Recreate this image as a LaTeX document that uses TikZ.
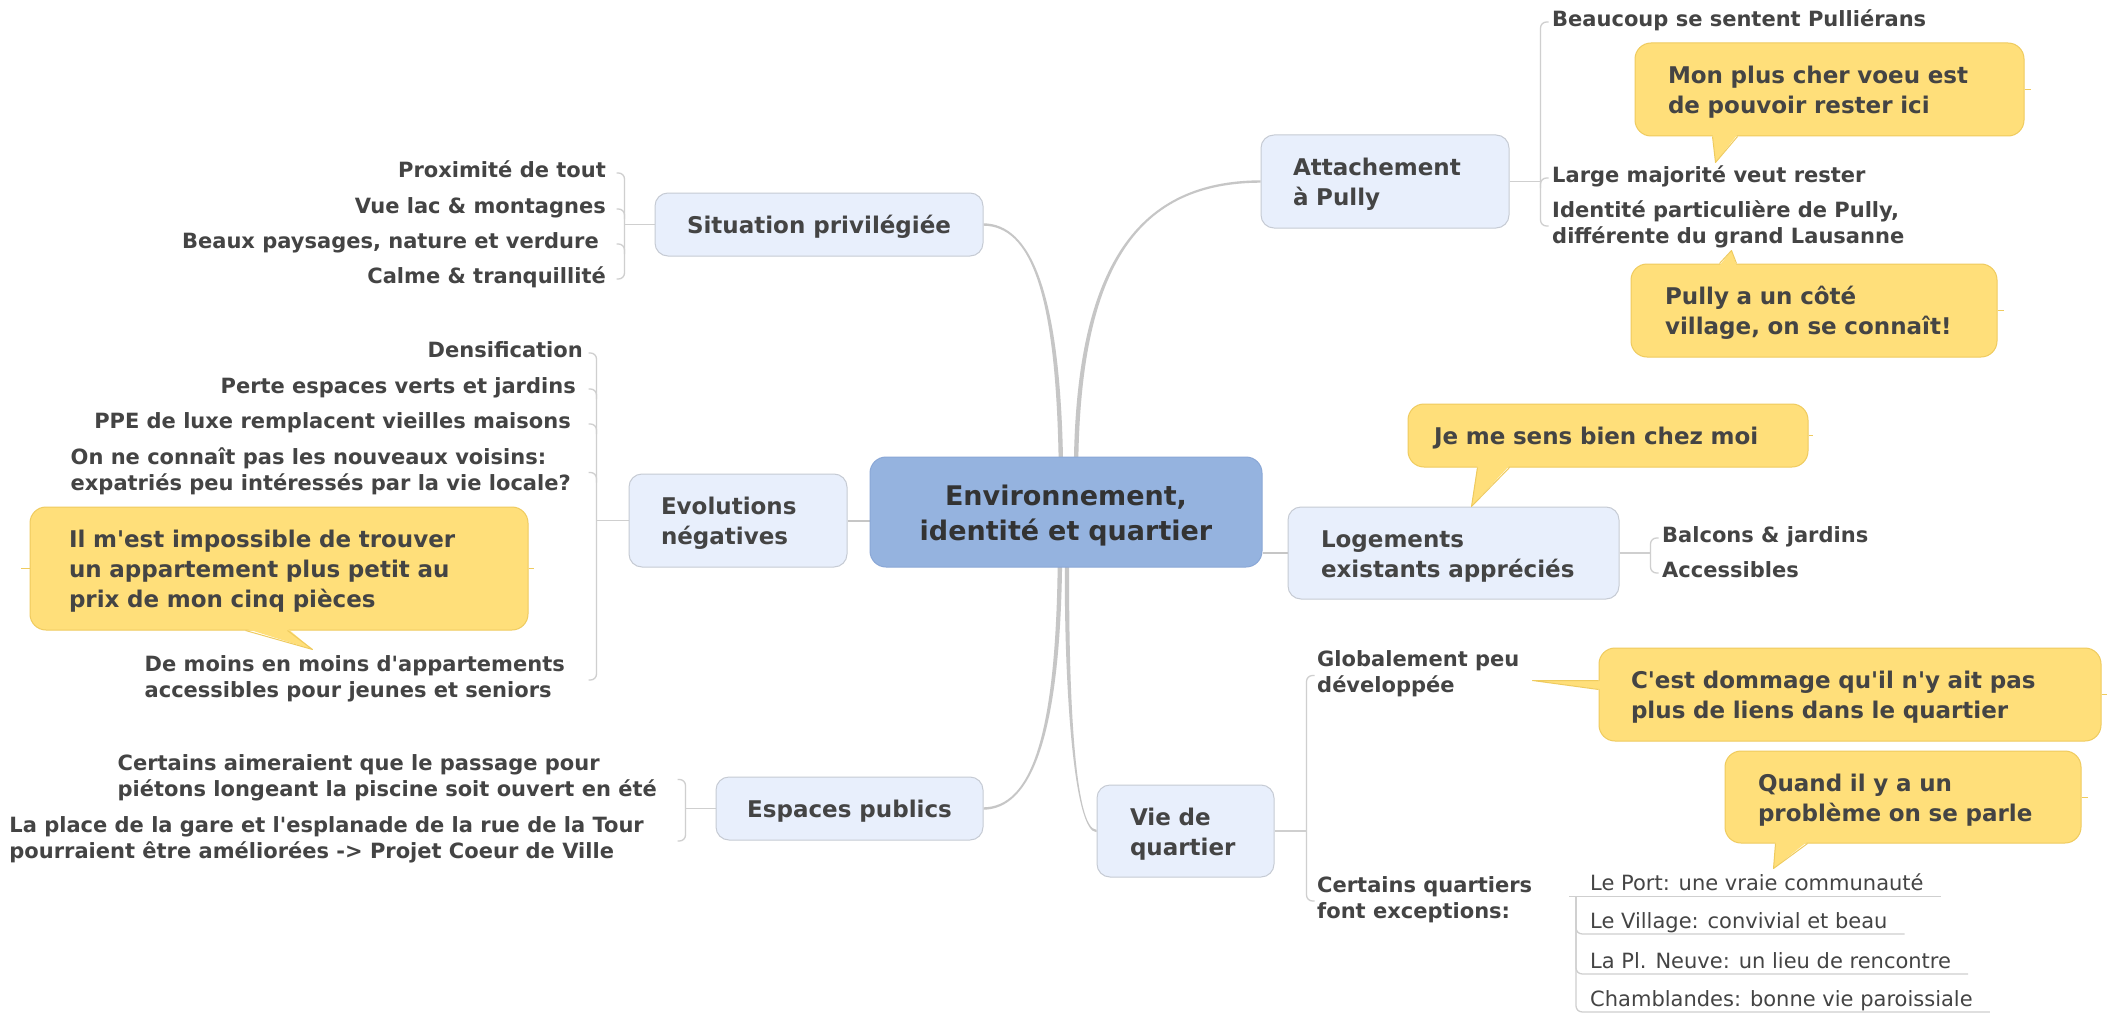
\documentclass[tikz,border=0pt]{standalone}
\usepackage{fontspec}
\setmainfont{DejaVu Sans}[Ligatures=TeXOff]
\usetikzlibrary{calc}
\pgfdeclarelayer{bg}
\pgfsetlayers{bg,main}

\definecolor{txtc}{HTML}{444444}
\definecolor{roottxt}{HTML}{333333}
\definecolor{rootfill}{HTML}{95B3DF}
\definecolor{rootline}{HTML}{8AA7D6}
\definecolor{topfill}{HTML}{E8EFFC}
\definecolor{topline}{HTML}{C6CBD4}
\definecolor{callfill}{HTML}{FFDF7A}
\definecolor{callline}{HTML}{EFCB5E}
\definecolor{branchc}{HTML}{C6C6C6}
\definecolor{brackc}{HTML}{CFCFCF}

\newcommand\leaffont{\fontsize{21}{26}\selectfont\bfseries}
\newcommand\subfont{\fontsize{21}{26}\selectfont}
\newcommand\topicfont{\fontsize{23}{30}\selectfont\bfseries}
\newcommand\callfont{\fontsize{23}{30}\selectfont\bfseries}
\newcommand\rootfont{\fontsize{27}{35}\selectfont\bfseries}
% explicit line struts
\newcommand\Ra{\rule{0pt}{29pt}}
\newcommand\Rz{\rule[-8pt]{0pt}{0pt}}
\newcommand\Ta{\rule{0pt}{25pt}}
\newcommand\Tz{\rule[-7pt]{0pt}{0pt}}
\newcommand\Ls{\rule[-7pt]{0pt}{18pt}}
\newcommand\Ss{\rule[-5.5pt]{0pt}{18pt}}

\newcommand\mmbranch[6]{%
  \fill[branchc] ($#1+(0,#5)$) .. controls ($#2+(0,#5)$) and ($#3+(#6,0)$) .. ($#4+(#6,0)$)
    -- ($#4+({-(#6)},0)$) .. controls ($#3+({-(#6)},0)$) and ($#2+(0,{-(#5)})$) .. ($#1+(0,{-(#5)})$) -- cycle;}

\tikzset{
  every node/.style={inner sep=0pt, text=txtc},
  rootbox/.style={rounded corners=16pt, fill=rootfill, draw=rootline, line width=1pt,
    align=center, font=\rootfont, text=roottxt, text width=372pt, inner xsep=10pt, minimum height=110pt},
  topicbox/.style={rounded corners=13pt, fill=topfill, draw=topline, line width=1pt, font=\topicfont},
  callbox/.style={rounded corners=16pt, fill=callfill, draw=callline, line width=1pt,
    font=\callfont, align=left},
  leafL/.style={font=\leaffont, align=left, anchor=east, yshift=-1pt},
  leafR/.style={font=\leaffont, align=left, anchor=west, yshift=-1pt},
  subleaf/.style={font=\subfont, align=left, anchor=west},
  brk/.style={draw=brackc, line width=1.3pt},
  branchline/.style={draw=branchc, line width=2pt},
  stub/.style={draw=callline, line width=1pt},
}

\begin{document}
\begin{tikzpicture}[x=1pt,y=-1pt,line join=round]
\begin{pgfonlayer}{bg}
\fill[white] (0,0) rectangle (2107,1014);
\end{pgfonlayer}
\useasboundingbox (0,0) rectangle (2107,1014);

% central and topics
\node[rootbox] (root) at (1066,512) {\Ra Environnement,\\identité et quartier\Rz};
\node[topicbox, align=left, text width=184pt, inner xsep=32pt, minimum height=93pt] (att) at (1385,181.5) {\Ta Attachement\\à~Pully\Tz};
\node[topicbox, align=center, minimum width=328pt, minimum height=63pt] (sit) at (819,224.5) {\Ta Situation privilégiée\Tz};
\node[topicbox, align=left, text width=154pt, inner xsep=32pt, minimum height=93pt] (evo) at (738,520.5) {\Ta Evolutions\\négatives\Tz};
\node[topicbox, align=left, text width=265pt, inner xsep=33pt, minimum height=92pt] (log) at (1453.5,553) {\Ta Logements\\existants~appréciés\Tz};
\node[topicbox, align=center, minimum width=267pt, minimum height=63pt] (esp) at (849.5,808.5) {\Ta Espaces publics\Tz};
\node[topicbox, align=left, text width=111pt, inner xsep=33pt, minimum height=92pt] (vie) at (1185.5,831) {\Ta Vie~de\\quartier\Tz};

% callouts
\node[callbox, text width=323pt, inner xsep=33pt, minimum height=93pt] (c1) at (1829.5,89.5) {\Ta Mon~plus~cher~voeu~est\\de~pouvoir~rester~ici\Tz};
\node[callbox, text width=298pt, inner xsep=34pt, minimum height=93pt] (c2) at (1814,310.5) {\Ta Pully~a~un~côté\\village,~on~se~connaît!\Tz};
\node[callbox, text width=348pt, inner xsep=26pt, minimum height=63pt] (c3) at (1608,435.5) {\Ta Je~me~sens~bien~chez~moi\Tz};
\node[callbox, text width=420pt, inner xsep=39pt, minimum height=123pt] (c4) at (279,568.5) {\Ta Il~m'est~impossible~de~trouver\\un~appartement~plus~petit~au\\prix~de~mon~cinq~pièces\Tz};
\node[callbox, text width=438pt, inner xsep=32pt, minimum height=93pt] (c5) at (1850,694.5) {\Ta C'est~dommage~qu'il~n'y~ait~pas\\plus~de~liens~dans~le~quartier\Tz};
\node[callbox, text width=290pt, inner xsep=33pt, minimum height=92pt] (c6) at (1903,797) {\Ta Quand~il~y~a~un\\problème~on~se~parle\Tz};

% callout tails
\fill[callfill] ($(c1.south west)+(78,-2)$) -- ($(c1.south west)+(81,26)$) -- ($(c1.south west)+(103,-2)$) -- cycle;
\draw[stub] ($(c1.south west)+(78,0)$) -- ($(c1.south west)+(81,26)$) -- ($(c1.south west)+(103,0)$);
\fill[callfill] ($(c2.north west)+(89,2)$) -- ($(c2.north west)+(101,-13)$) -- ($(c2.north west)+(106,2)$) -- cycle;
\draw[stub] ($(c2.north west)+(89,0)$) -- ($(c2.north west)+(101,-13)$) -- ($(c2.north west)+(106,0)$);
\fill[callfill] ($(c3.south west)+(70,-2)$) -- ($(c3.south west)+(64,39)$) -- ($(c3.south west)+(102,-2)$) -- cycle;
\draw[stub] ($(c3.south west)+(70,0)$) -- ($(c3.south west)+(64,39)$) -- ($(c3.south west)+(102,0)$);
\fill[callfill] ($(c4.south west)+(216,-2)$) -- ($(c4.south west)+(283,19)$) -- ($(c4.south west)+(258,-2)$) -- cycle;
\draw[stub] ($(c4.south west)+(216,0)$) -- ($(c4.south west)+(283,19)$) -- ($(c4.south west)+(258,0)$);
\fill[callfill] ($(c5.north west)+(2,33)$) -- ($(c5.north west)+(-66,33)$) -- ($(c5.north west)+(2,42)$) -- cycle;
\draw[stub] ($(c5.north west)+(0,33)$) -- ($(c5.north west)+(-66,33)$) -- ($(c5.north west)+(0,42)$);
\fill[callfill] ($(c6.south west)+(51,-2)$) -- ($(c6.south west)+(49,25)$) -- ($(c6.south west)+(83,-2)$) -- cycle;
\draw[stub] ($(c6.south west)+(51,0)$) -- ($(c6.south west)+(49,25)$) -- ($(c6.south west)+(83,0)$);

% callout stubs
\draw[stub] (c1.east) -- ++(6,0);
\draw[stub] (c2.east) -- ++(6,0);
\draw[stub] (c3.east) -- ++(4,0);
\draw[stub] (c4.east) -- ++(5,0);
\draw[stub] (c4.west) -- ++(-9,0);
\draw[stub] (c5.east) -- ++(6,0);
\draw[stub] (c6.east) -- ++(6,0);

% leaves: Situation
\node[leafL] (s1) at (606,172) {\Ls Proximité de tout};
\node[leafL] (s2) at (606,208) {\Ls Vue lac \& montagnes};
\node[leafL] (s3) at (599,243) {\Ls Beaux paysages, nature et verdure};
\node[leafL] (s4) at (606,278) {\Ls Calme \& tranquillité};
% leaves: Evolutions
\node[leafL] (e1) at (583,352) {\Ls Densification};
\node[leafL] (e2) at (576,388) {\Ls Perte espaces verts et jardins};
\node[leafL] (e3) at (571,423) {\Ls PPE de luxe remplacent vieilles maisons};
\node[leafL] (e4) at (571,471.5) {\Ls On ne connaît pas les nouveaux voisins:\\\Ls expatriés peu intéressés par la vie locale?};
\node[leafL] (e5) at (565,679) {\Ls De moins en moins d'appartements\\\Ls accessibles pour jeunes et seniors};
% leaves: Espaces
\node[leafL] (p1) at (657,778.5) {\Ls Certains aimeraient que le passage pour\\\Ls piétons longeant la piscine soit ouvert en été};
\node[leafL] (p2) at (644,840) {\Ls La place de la gare et l'esplanade de la rue de la Tour\\\Ls pourraient être améliorées -> Projet Coeur de Ville};
% leaves: Attachement
\node[leafR] (a1) at (1552,21) {\Ls Beaucoup se sentent Pulliérans};
\node[leafR] (a2) at (1552,177) {\Ls Large majorité veut rester};
\node[leafR] (a3) at (1552,225) {\Ls Identité particulière de Pully,\\\Ls différente du grand Lausanne};
% leaves: Logements
\node[leafR] (l1) at (1662,537) {\Ls Balcons \& jardins};
\node[leafR] (l2) at (1662,572) {\Ls Accessibles};
% leaves: Vie de quartier
\node[leafR] (v1) at (1317,674.5) {\Ls Globalement peu\\\Ls développée};
\node[leafR] (v2) at (1317,900) {\Ls Certains quartiers\\\Ls font exceptions:};
\node[subleaf] (q1) at (1590,885) {\Ss Le Port: une vraie communauté};
\node[subleaf] (q2) at (1590,923) {\Ss Le Village: convivial et beau};
\node[subleaf] (q3) at (1590,963) {\Ss La Pl. Neuve: un lieu de rencontre};
\node[subleaf] (q4) at (1590,1001) {\Ss Chamblandes: bonne vie paroissiale};

% connectors
\begin{pgfonlayer}{bg}
\coordinate (rT1) at ($(root.north)+(-5,15)$);
\coordinate (rT2) at ($(root.north)+(10,15)$);
\coordinate (rB1) at ($(root.south)+(-6,-15)$);
\coordinate (rB2) at ($(root.south)+(1,-15)$);
\mmbranch{(att.west)}{(1140,182)}{(1077,262)}{(rT2)}{-1.2}{-2.2}
\mmbranch{(sit.east)}{(1030,225)}{(1059,290)}{(rT1)}{1.2}{-2.2}
\mmbranch{(esp.east)}{(1030,808)}{(1059,740)}{(rB1)}{1.2}{2.2}
\mmbranch{(vie.west)}{(1075,831)}{(1066,700)}{(rB2)}{-1.2}{2.2}
\draw[branchline] (evo.east) -- (root.west |- evo.east);
\draw[branchline] (root.east |- log.west) -- (log.west);

% Situation bracket
\coordinate (bS) at ($(sit.west)+(-30,0)$);
\draw[brk] (sit.west) -- (bS);
\draw[brk, rounded corners=6pt] ($(bS |- s1)+(-8,0)$) -| (bS |- s4) -- ($(bS |- s4)+(-8,0)$);
\foreach \n in {s2,s3} \draw[brk, rounded corners=6pt] ($(bS |- \n)+(-8,0)$) -| ($(bS |- \n)+(0,10)$);
% Evolutions bracket
\coordinate (bE) at ($(evo.west)+(-32,0)$);
\draw[brk] (evo.west) -- (bE);
\draw[brk, rounded corners=6pt] ($(bE |- e1)+(-8,0)$) -| (bE |- e5) -- ($(bE |- e5)+(-8,0)$);
\foreach \n in {e2,e3,e4} \draw[brk, rounded corners=6pt] ($(bE |- \n)+(-8,0)$) -| ($(bE |- \n)+(0,10)$);
% Espaces bracket
\coordinate (bP) at ($(esp.west)+(-30,0)$);
\draw[brk] (esp.west) -- (bP);
\draw[brk, rounded corners=6pt] ($(bP |- p1)+(-8,0)$) -| (bP |- p2) -- ($(bP |- p2)+(-8,0)$);
% Attachement bracket
\coordinate (bA) at ($(att.east)+(31,0)$);
\draw[brk] (att.east) -- (bA);
\draw[brk, rounded corners=6pt] ($(bA |- a1)+(8,0)$) -| (bA |- a3) -- ($(bA |- a3)+(8,0)$);
\draw[brk, rounded corners=6pt] ($(bA |- a2)+(8,0)$) -| ($(bA |- a2)+(0,10)$);
% Logements bracket
\coordinate (bL) at ($(log.east)+(31,0)$);
\draw[brk] (log.east) -- (bL);
\draw[brk, rounded corners=6pt] ($(bL |- l1)+(8,0)$) -| (bL |- l2) -- ($(bL |- l2)+(8,0)$);
% Vie bracket
\coordinate (bV) at ($(vie.east)+(32,0)$);
\draw[brk] (vie.east) -- (bV);
\draw[brk, rounded corners=6pt] ($(bV |- v1)+(8,0)$) -| (bV |- v2) -- ($(bV |- v2)+(8,0)$);
% sub-leaves underlines
\coordinate (qs) at ($(q1.south west)+(-21,0)$);
\coordinate (qv) at ($(q1.south west)+(-14,0)$);
\draw[brk] (qs) -- ($(q1.south east)+(17,0)$);
\foreach \n in {q2,q3,q4} \draw[brk, rounded corners=6pt] (qv) |- ($(\n.south east)+(17,0)$);
\end{pgfonlayer}
\end{tikzpicture}
\end{document}
